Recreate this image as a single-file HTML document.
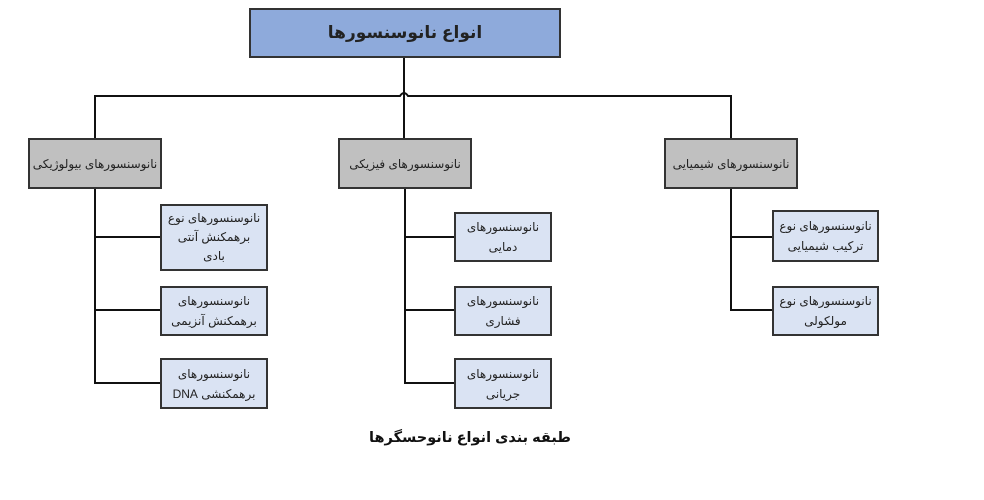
<!DOCTYPE html>
<html><head><meta charset="utf-8">
<style>
body{margin:0;width:984px;height:500px;background:#fff;position:relative;overflow:hidden;font-family:"Liberation Sans","DejaVu Sans",sans-serif;}
.b{position:absolute;box-sizing:border-box;border:2px solid #333;display:flex;align-items:center;justify-content:center;text-align:center;direction:rtl;font-size:12px;line-height:20px;color:#222;padding:0;}
.g{background:#c0c0c0;}
.c{background:#dae3f3;}
svg{position:absolute;left:0;top:0;}
</style></head><body>
<svg width="984" height="500">
<g stroke="#111" stroke-width="2" fill="none">
<line x1="404" y1="57" x2="404" y2="138"/>
<path d="M95 138 V96 H400 Q404 90 408 96 H731 V138"/>
<line x1="95" y1="188" x2="95" y2="384"/>
<line x1="94" y1="237" x2="161" y2="237"/>
<line x1="94" y1="310" x2="161" y2="310"/>
<line x1="94" y1="383" x2="161" y2="383"/>
<line x1="405" y1="188" x2="405" y2="384"/>
<line x1="404" y1="237" x2="454" y2="237"/>
<line x1="404" y1="310" x2="454" y2="310"/>
<line x1="404" y1="383" x2="454" y2="383"/>
<line x1="731" y1="188" x2="731" y2="311"/>
<line x1="730" y1="237" x2="772" y2="237"/>
<line x1="730" y1="310" x2="772" y2="310"/>
</g></svg>
<div class="b" style="left:249px;top:8px;width:312px;height:50px;background:#8eaadb;font-size:17px;font-weight:bold;">انواع نانوسنسورها</div>
<div class="b g" style="left:28px;top:138px;width:134px;height:51px;">نانوسنسورهای بیولوژیکی</div>
<div class="b g" style="left:338px;top:138px;width:134px;height:51px;">نانوسنسورهای فیزیکی</div>
<div class="b g" style="left:664px;top:138px;width:134px;height:51px;">نانوسنسورهای شیمیایی</div>
<div class="b c" style="left:160px;top:204px;width:108px;height:67px;line-height:19px;">نانوسنسورهای نوع<br>برهمکنش آنتی<br>بادی</div>
<div class="b c" style="left:160px;top:286px;width:108px;height:50px;">نانوسنسورهای<br>برهمکنش آنزیمی</div>
<div class="b c" style="left:160px;top:358px;width:108px;height:51px;">نانوسنسورهای<br>برهمکنشی DNA</div>
<div class="b c" style="left:454px;top:212px;width:98px;height:50px;">نانوسنسورهای<br>دمایی</div>
<div class="b c" style="left:454px;top:286px;width:98px;height:50px;">نانوسنسورهای<br>فشاری</div>
<div class="b c" style="left:454px;top:358px;width:98px;height:51px;">نانوسنسورهای<br>جریانی</div>
<div class="b c" style="left:772px;top:210px;width:107px;height:52px;">نانوسنسورهای نوع<br>ترکیب شیمیایی</div>
<div class="b c" style="left:772px;top:286px;width:107px;height:50px;">نانوسنسورهای نوع<br>مولکولی</div>
<div style="position:absolute;left:360px;top:430px;width:220px;text-align:center;direction:rtl;font-size:14.5px;font-weight:bold;color:#111;">طبقه بندی انواع نانوحسگرها</div>
</body></html>
